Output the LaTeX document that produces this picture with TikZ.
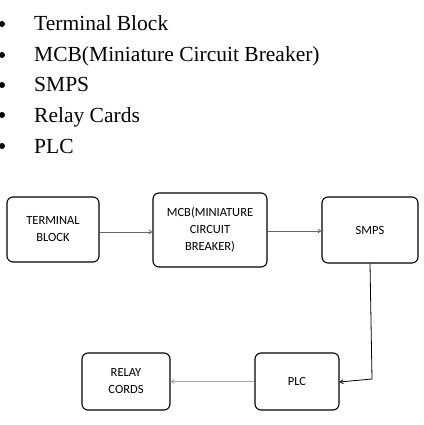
\documentclass[tikz,border=0pt]{standalone}
\usepackage{fontspec}
\setmainfont{Liberation Serif}
\newfontfamily\boxfont{Carlito}
\usetikzlibrary{arrows.meta}

\begin{document}
\begin{tikzpicture}[x=1pt,y=-1pt,
	listitem/.style={anchor=base west,inner sep=0pt,font=\fontsize{21.5}{24}\selectfont},
	block/.style={draw,line width=1.1pt,rounded corners=6pt,inner sep=0pt,align=center,font=\boxfont\fontsize{12.5}{17}\selectfont},
	link/.style={draw=black!60,line width=0.8pt,-{Straight Barb[length=3pt,width=4pt]}}]
			\useasboundingbox (0,0) rectangle (423,425);
			% blocks
			\node[block,minimum width=92pt,minimum height=65pt] (term) at (53,229.5) {TERMINAL\\BLOCK};
			\node[block,minimum width=114pt,minimum height=74pt] (mcb) at (210,230) {MCB(MINIATURE\\CIRCUIT\\BREAKER)};
			\node[block,minimum width=96pt,minimum height=66pt] (smps) at (370,230) {SMPS};
			\node[block,minimum width=84pt,minimum height=57pt] (plc) at (297,381.5) {PLC};
			\node[block,minimum width=88pt,minimum height=57pt] (relay) at (126,381.5) {RELAY\\CORDS};
			% connectors
			\coordinate (bend) at (372,379);
			\draw[link] ([yshift=-2.5pt]term.east) -- ([yshift=-2.5pt]term.east -| mcb.west);
			\draw[link] ([yshift=-1pt]mcb.east) -- ([yshift=-1pt]mcb.east -| smps.west);
			\draw[link,draw=black] (smps.south) -- (bend) -- ([yshift=-0.5pt]plc.east);
			\draw[link,draw=black!35] (plc.west) -- (relay.east);
			% list
			\fill (2,24) circle (3pt);
			\fill (2,55) circle (3pt);
			\fill (2,85) circle (3pt);
			\fill (2,115) circle (3pt);
			\fill (2,146) circle (3pt);
			\node[listitem] (item1) at (34,31) {Terminal Block};
			\node[listitem] (item2) at (34,62) {MCB(Miniature Circuit Breaker)};
			\node[listitem] (item3) at (34,92) {SMPS};
			\node[listitem] (item4) at (34,122) {Relay Cards};
			\node[listitem] (item5) at (34,153) {PLC};
		\end{tikzpicture}
\end{document}
